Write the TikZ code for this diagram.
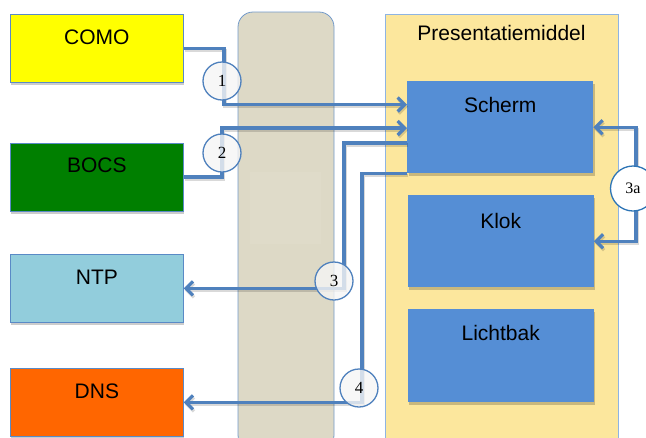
\documentclass[tikz,border=0pt]{standalone}
\usepackage{fontspec}
\setmainfont{Liberation Sans}
\newfontfamily\numfont{Liberation Serif}
\usetikzlibrary{arrows.meta,shadows}
\definecolor{lineblue}{HTML}{4F81BD}
\definecolor{boxblue}{HTML}{558ED5}
\definecolor{edgeblue}{HTML}{5A8AC6}
\definecolor{colgray}{HTML}{DDD9C6}
\definecolor{colinner}{HTML}{DFDBC9}
\definecolor{presyellow}{HTML}{FCE79D}
\definecolor{presedge}{HTML}{8EB4E3}
\definecolor{comoyellow}{HTML}{FFFF00}
\definecolor{bocsgreen}{HTML}{007F00}
\definecolor{ntpblue}{HTML}{92CDDC}
\definecolor{dnsorange}{HTML}{FF6600}
\definecolor{darkring}{HTML}{2E75B6}
\begin{document}
\begin{tikzpicture}[x=1pt,y=-1pt,
  sysbox/.style={draw=edgeblue,line width=0.8pt,inner sep=0pt,
    minimum width=173pt,text width=173pt,align=center,
    text height=30pt,text depth=38pt,anchor=north west,
    font=\fontsize{21}{25}\selectfont,
    drop shadow={shadow xshift=1pt,shadow yshift=-3pt,fill=black,opacity=0.2}},
  subbox/.style={fill=boxblue,inner sep=0pt,
    minimum width=186pt,text width=186pt,align=center,anchor=north west,
    font=\fontsize{21}{25}\selectfont,
    drop shadow={shadow xshift=1.5pt,shadow yshift=-3pt,fill=black,opacity=0.2}},
  conn/.style={draw=lineblue,line width=3.2pt,
    preaction={draw=black,opacity=0.15,line width=3.2pt,transform canvas={xshift=1pt,yshift=-2pt}}},
  tip/.tip={Straight Barb[length=7pt,width=14pt]},
  numcirc/.style={circle,draw=lineblue,line width=1.3pt,fill=gray!8,fill opacity=0.8,text opacity=1,
    minimum size=38pt,inner sep=0pt,font=\numfont\fontsize{17}{20}\selectfont},
]
\useasboundingbox (0,0) rectangle (646,437);

% background panels
\draw[fill=colgray,draw=lineblue!80,line width=0.8pt,rounded corners=15pt] (238,12) rectangle (334,450);
\fill[colinner] (250,172) rectangle (321,244);
\draw[fill=presyellow,draw=presedge,line width=0.8pt] (385,14) rectangle (618,450);
\node[font=\fontsize{21}{25}\selectfont,anchor=base] (pmtitle) at (501.5,40) {Presentatiemiddel};

% left systems
\node[sysbox,fill=comoyellow] (como) at (10,14) {COMO};
\node[sysbox,fill=bocsgreen] (bocs) at (10,142.5) {BOCS};
\node[sysbox,fill=ntpblue] (ntp) at (10,254) {NTP};
\node[sysbox,fill=dnsorange] (dns) at (10,368) {DNS};

% presentation components
\node[subbox,text height=31.7pt,text depth=60.3pt] (scherm) at (407,81) {Scherm};
\node[subbox,text height=33pt,text depth=59pt] (klok) at (407.5,195) {Klok};
\node[subbox,text height=31pt,text depth=62pt] (lichtbak) at (407.5,309) {Lichtbak};

% connectors
\coordinate (k1) at (224,104.5);
\coordinate (k2) at (222,128);
\coordinate (k3) at (344,143);
\coordinate (k4) at (362,173.5);
\coordinate (k5) at (636,0);

\draw[conn,-tip] (como.east) -| (k1) -- (k1 -| scherm.west);
\draw[conn,-tip] (bocs.east) -| (k2) -- (k2 -| scherm.west);
\draw[conn,-tip] (k3 -| scherm.west) -- (k3) |- (ntp.east);
\draw[conn,-tip] (k4 -| scherm.west) -- (k4) |- (dns.east);
\draw[conn,tip-tip] (scherm.east) -- (scherm.east -| k5) -- (klok.east -| k5) -- (klok.east);

% numbered circles
\node[numcirc] (c1) at (222,81) {1};
\node[numcirc] (c2) at (222,153) {2};
\node[numcirc] (c3) at (334,281) {3};
\node[numcirc] (c4) at (359,388) {4};
\node[numcirc,draw=darkring,fill=white,fill opacity=1,minimum size=45pt,font=\numfont\fontsize{16}{18}\selectfont] (c3a) at (633,188.5) {3a};
\end{tikzpicture}
\end{document}
